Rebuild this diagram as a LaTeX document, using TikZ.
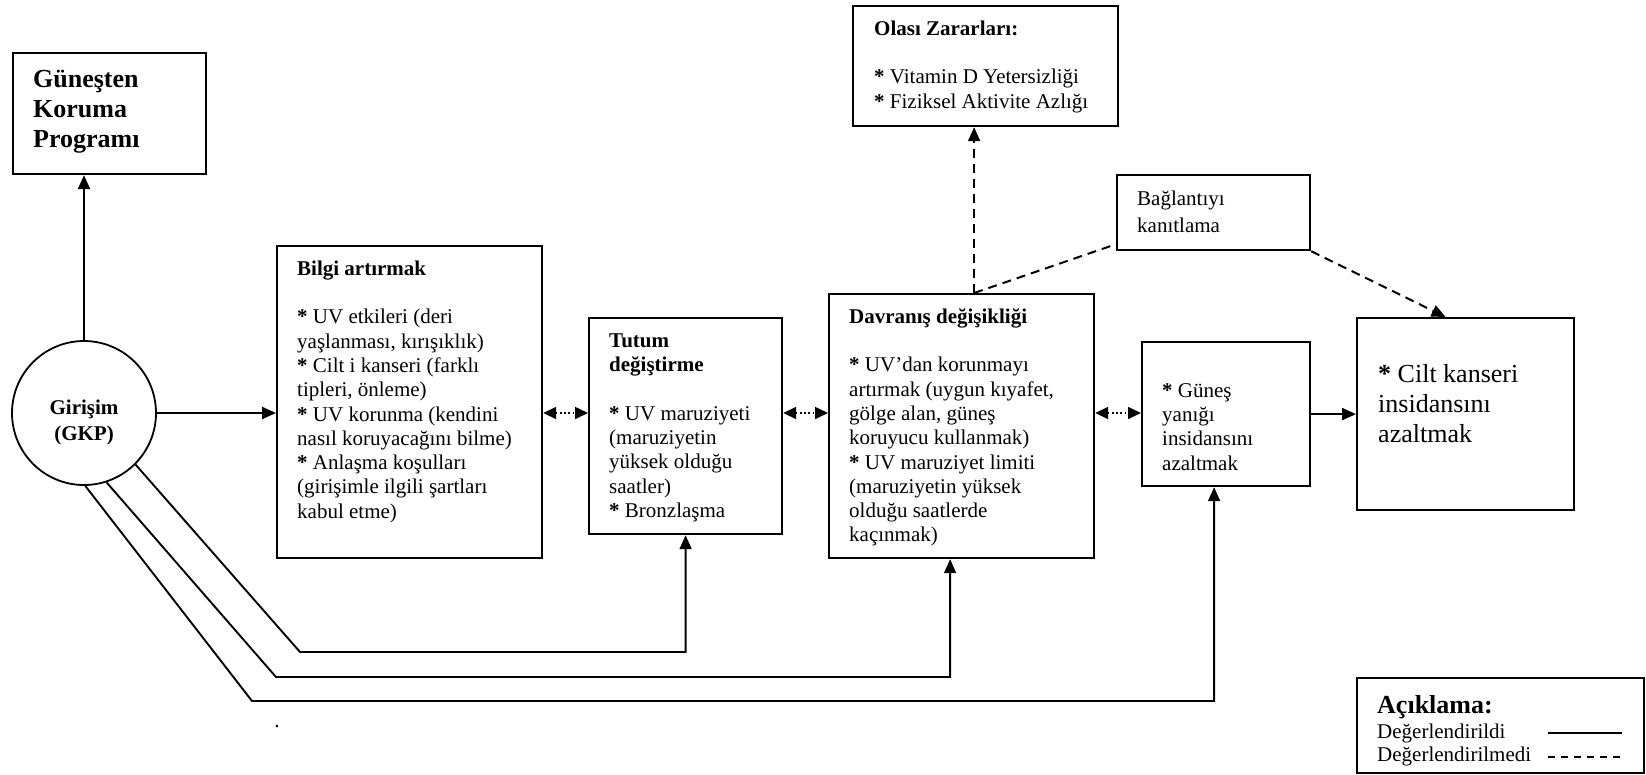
\documentclass[tikz,border=0pt]{standalone}
\usepackage{fontspec}
\setmainfont{Liberation Serif}
\usetikzlibrary{arrows.meta}
\begin{document}
\begin{tikzpicture}[x=1pt,y=-1pt,
  box/.style={draw, line width=2.2pt, inner sep=0pt, anchor=north west},
  ta/.style={anchor=north west, inner sep=0pt, align=left, font=\fontsize{21}{24.3}\selectfont},
  tb/.style={anchor=north west, inner sep=0pt, align=left, font=\fontsize{26}{30}\selectfont},
  tbb/.style={anchor=north west, inner sep=0pt, align=left, font=\bfseries\fontsize{26}{30}\selectfont},
  arr/.style={line width=2.2pt, -{Triangle[length=14pt,width=12pt]}},
  feed/.style={line width=1.9pt, -{Triangle[length=14pt,width=12pt]}},
  dbl/.style={line width=1.6pt, dash pattern=on 1.6pt off 2.6pt, {Triangle[length=13pt,width=12pt]}-{Triangle[length=13pt,width=12pt]}},
  dsh/.style={line width=2pt, dash pattern=on 9pt off 6pt},
  legtxt/.style={anchor=base west, inner sep=0pt, font=\fontsize{21}{24}\selectfont}
]
\useasboundingbox (0,0) rectangle (1646,774);

% boxes
\node[box, minimum width=193pt, minimum height=121pt] (gkp) at (12,52) {};
\node[draw, circle, line width=1.8pt, minimum size=144pt, inner sep=0pt] (gir) at (84,413) {};
\node[box, minimum width=265pt, minimum height=312pt] (bilgi) at (276,245) {};
\node[box, minimum width=193pt, minimum height=216pt] (tutum) at (588,317) {};
\node[box, minimum width=265pt, minimum height=264pt] (dav) at (828,293) {};
\node[box, minimum width=168pt, minimum height=144pt] (gun) at (1141,341) {};
\node[box, minimum width=217pt, minimum height=192pt] (cilt) at (1356,317) {};
\node[box, minimum width=265pt, minimum height=120pt] (olasi) at (852,5) {};
\node[box, minimum width=193pt, minimum height=75pt] (bag) at (1116,174) {};
\node[box, minimum width=287pt, minimum height=95pt] (leg) at (1356,677) {};

% texts
\node[tbb] (gkpt) at (33,66) {\strut Güneşten\\Koruma\\Programı};
\node[anchor=north, inner sep=0pt, align=center, font=\bfseries\fontsize{21}{26}\selectfont] (girt) at (84,395.8) {\strut Girişim\\(GKP)};
\node[ta] (bilgit) at (297,258) {\strut\textbf{Bilgi artırmak}\\[24.3pt]\textbf{*} UV etkileri (deri\\yaşlanması, kırışıklık)\\\textbf{*} Cilt i kanseri (farklı\\tipleri, önleme)\\\textbf{*} UV korunma (kendini\\nasıl koruyacağını bilme)\\\textbf{*} Anlaşma koşulları\\(girişimle ilgili şartları\\kabul etme)};
\node[ta] (tutumt) at (609,330) {\strut\textbf{Tutum}\\\textbf{değiştirme}\\[24.3pt]\textbf{*} UV maruziyeti\\(maruziyetin\\yüksek olduğu\\saatler)\\\textbf{*} Bronzlaşma};
\node[ta] (davt) at (849,306) {\strut\textbf{Davranış değişikliği}\\[24.3pt]\textbf{*} UV’dan korunmayı\\artırmak (uygun kıyafet,\\gölge alan, güneş\\koruyucu kullanmak)\\\textbf{*} UV maruziyet limiti\\(maruziyetin yüksek\\olduğu saatlerde\\kaçınmak)};
\node[ta] (gunt) at (1162,380) {\strut\textbf{*} Güneş\\yanığı\\insidansını\\azaltmak};
\node[tb] (ciltt) at (1378,361) {\strut\textbf{*} Cilt kanseri\\insidansını\\azaltmak};
\node[ta] (olasit) at (874,18) {\strut\textbf{Olası Zararları:}\\[24.3pt]\textbf{*} Vitamin D Yetersizliği\\\textbf{*} Fiziksel Aktivite Azlığı};
\node[anchor=north west, inner sep=0pt, align=left, font=\fontsize{21}{27}\selectfont] (bagt) at (1137,186) {\strut Bağlantıyı\\kanıtlama};
\node[anchor=base west, inner sep=0pt, font=\bfseries\fontsize{26}{30}\selectfont] (legh) at (1377,713) {Açıklama:};
\node[legtxt] (leg1) at (1377,738) {Değerlendirildi};
\node[legtxt] (leg2) at (1377,761) {Değerlendirilmedi};
\node[anchor=base, inner sep=0pt, font=\fontsize{21}{24}\selectfont] (dot) at (277,727) {.};

% legend samples
\coordinate (l1a) at (1548,733);
\coordinate (l1b) at (1622,733);
\coordinate (l2a) at (1548,757);
\coordinate (l2b) at (1622,757);
\draw[line width=1.8pt] (l1a) -- (l1b);
\draw[line width=1.5pt, dash pattern=on 7pt off 6pt] (l2a) -- (l2b);

% connectors
\draw[arr] (gir.north) -- (gir.north |- gkp.south);
\draw[arr] (gir.east) -- (gir.east -| bilgi.west);
\draw[dbl] (bilgi.east |- gir.east) -- (tutum.west |- gir.east);
\draw[dbl] (tutum.east |- gir.east) -- (dav.west |- gir.east);
\draw[dbl] (dav.east |- gir.east) -- (gun.west |- gir.east);
\draw[arr] (gun.east) -- (gun.east -| cilt.west);
\draw[feed] (gir.-45) -- (300,652) -| (tutum.south);
\draw[feed] (gir.-72) -- (276,677) -| ([xshift=-11.5pt]dav.south);
\draw[feed] (gir.-89) -- (252,701) -| ([xshift=-12pt]gun.south);
\draw[dsh, -{Triangle[length=14pt,width=12pt]}] ([xshift=12.5pt]dav.north) -- ([xshift=-11.5pt]olasi.south);
\draw[dsh] ([xshift=12.5pt]dav.north) -- ([yshift=7pt]bag.south west);
\draw[dsh, -{Triangle[length=14pt,width=12pt]}] (bag.south east) -- ([xshift=-20pt]cilt.north);
\end{tikzpicture}
\end{document}
